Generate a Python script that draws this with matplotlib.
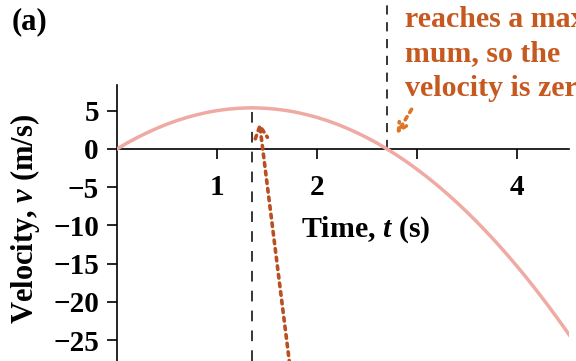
import matplotlib
matplotlib.use("Agg")
import matplotlib.pyplot as plt

plt.rcParams['font.family'] = ['Liberation Serif', 'DejaVu Serif']
plt.rcParams['font.weight'] = 'bold'
plt.rcParams['mathtext.fontset'] = 'custom'
plt.rcParams['mathtext.it'] = 'Liberation Serif:italic:bold'
plt.rcParams['mathtext.rm'] = 'Liberation Serif:bold'

# velocity v(t), every 0.1 s
czas = [0.0, 0.1, 0.2, 0.3, 0.4, 0.5, 0.6, 0.7, 0.8, 0.9, 1.0, 1.1, 1.2, 1.3, 1.35,
        1.4, 1.5, 1.6, 1.7, 1.8, 1.9, 2.0, 2.1, 2.2, 2.3, 2.4, 2.5, 2.6, 2.7, 2.8,
        2.9, 3.0, 3.1, 3.2, 3.3, 3.4, 3.5, 3.6, 3.7, 3.8, 3.9, 4.0, 4.1, 4.2, 4.3,
        4.4, 4.5, 4.56]
predkosc = [0.0, 0.77, 1.48, 2.12, 2.71, 3.25, 3.72, 4.13, 4.48, 4.78, 5.02, 5.19,
            5.31, 5.37, 5.38, 5.37, 5.31, 5.19, 5.02, 4.78, 4.48, 4.13, 3.72, 3.25,
            2.71, 2.12, 1.48, 0.77, 0.0, -0.83, -1.71, -2.66, -3.66, -4.72, -5.84,
            -7.02, -8.26, -9.56, -10.92, -12.33, -13.81, -15.34, -16.93, -18.59,
            -20.30, -22.07, -23.90, -25.02]

t_max = 1.35      # maximum of v
v_max = 5.38
t_zero = 2.7      # v crosses zero

x_ticks = [1, 2, 3, 4]
x_tick_labels = ['1', '2', '', '4']
y_ticks = [5, 0, -5, -10, -15, -20, -25]
y_tick_labels = ['5', '0', '\u22125', '\u221210', '\u221215', '\u221220', '\u221225']

opis = 'reaches a maxi-\nmum, so the\nvelocity is zero.'
kolor_tekstu = '#c5591f'
kolor_strzalki = '#b94f22'
kolor_krzywej = '#efaaa4'

fig = plt.figure(figsize=(5.76, 3.61), dpi=100)
ax = fig.add_axes([117 / 576, 0.0, 452 / 576, 276 / 361])

ax.plot(czas, predkosc, color=kolor_krzywej, lw=2.5, solid_capstyle='round', zorder=3)

# dashed guides at the maximum and at the zero crossing
ax.plot([t_max, t_max], [-27.74, v_max], color='black', lw=1.1, ls=(0, (7, 6)),
        clip_on=False, zorder=2)
ax.plot([t_zero, t_zero], [0, 19.5], color='black', lw=1.1, ls=(0, (6, 5)),
        clip_on=False, zorder=2)

ax.set_xlim(0, 4.52)
ax.set_ylim(-27.74, 8.37)

ax.spines['top'].set_visible(False)
ax.spines['right'].set_visible(False)
ax.spines['bottom'].set_position(('data', 0))
ax.spines['left'].set_linewidth(1.2)
ax.spines['bottom'].set_linewidth(1.2)

ax.set_xticks(x_ticks)
ax.set_xticklabels(x_tick_labels)
ax.set_yticks(y_ticks)
ax.set_yticklabels(y_tick_labels)
ax.tick_params(axis='x', direction='out', length=7, width=1.2, pad=11, labelsize=21)
ax.tick_params(axis='y', direction='out', length=7, width=1.2, pad=6, labelsize=21)

ax.set_ylabel('Velocity, $v$ (m/s)', fontsize=22, fontweight='bold')
ax.yaxis.set_label_coords(-0.165, 0.514)
ax.set_xlabel('Time, $t$ (s)', fontsize=21.5, fontweight='bold')
ax.xaxis.set_label_coords(0.551, 0.53)

# arrows pointing at the maximum and at the zero crossing
ax.annotate('', xy=(1.42, 3.9), xytext=(1.73, -28.5),
            arrowprops=dict(arrowstyle='->', color=kolor_strzalki, lw=2.6,
                            ls=(0, (1, 1.4)), mutation_scale=22),
            annotation_clip=False)
ax.annotate('', xy=(2.78, 1.6), xytext=(2.96, 5.5),
            arrowprops=dict(arrowstyle='->', color='#de7426', lw=2.6,
                            ls=(0, (1, 1.4)), mutation_scale=15),
            annotation_clip=False)

fig.text(405 / 576, 1 - 6 / 361, opis, color=kolor_tekstu, fontsize=21.5,
         fontweight='bold', va='top', ha='left', linespacing=1.35)
fig.text(12 / 576, 1 - 7 / 361, '(a)', fontsize=22, fontweight='bold',
         va='top', ha='left')

fig.savefig('out.png', dpi=100)
